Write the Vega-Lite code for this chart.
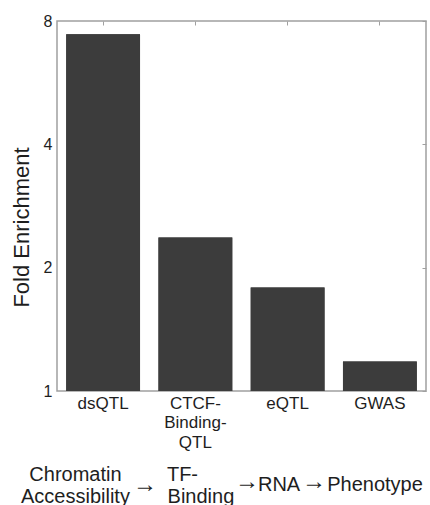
{
  "$schema": "https://vega.github.io/schema/vega-lite/v6.json",
  "padding": {"left": 9, "top": 12, "right": 0, "bottom": 0},
  "spacing": 59,
  "bounds": "flush",
  "config": {
    "font": "Liberation Sans",
    "view": {"stroke": null},
    "axis": {"labelColor": "#1e1e1e", "titleColor": "#1e1e1e", "domainColor": "#a0a0a0", "tickColor": "#a0a0a0", "grid": false}
  },
  "vconcat": [
    {
      "width": 369,
      "height": 370,
      "view": {"stroke": "#a0a0a0", "strokeWidth": 1.5},
      "data": {
        "values": [
          {"category": "dsQTL", "enrichment": 7.43, "base": 1},
          {"category": "CTCF-Binding-QTL", "enrichment": 2.37, "base": 1},
          {"category": "eQTL", "enrichment": 1.79, "base": 1},
          {"category": "GWAS", "enrichment": 1.18, "base": 1}
        ]
      },
      "resolve": {"axis": {"x": "independent", "y": "independent"}},
      "layer": [
        {
          "mark": {"type": "bar", "color": "#3c3c3c"},
          "encoding": {
            "x": {
              "field": "category", "type": "nominal", "sort": null,
              "scale": {"paddingInner": 0.2, "paddingOuter": 0.1},
              "axis": {
                "orient": "bottom", "title": null, "labelAngle": 0, "ticks": false, "domain": false,
                "labelFontSize": 17, "labelPadding": 4, "labelLineHeight": 19.5,
                "labelExpr": "datum.label == 'CTCF-Binding-QTL' ? ['CTCF-', 'Binding-', 'QTL'] : datum.label"
              }
            },
            "y": {
              "field": "enrichment", "type": "quantitative",
              "scale": {"type": "log", "base": 2, "domain": [1, 8]},
              "axis": {
                "orient": "left", "values": [1, 2, 4, 8], "title": "Fold Enrichment", "titleFontSize": 22, "titleFontWeight": "normal",
                "titlePadding": 10, "titleY": 206, "labelFontSize": 16, "ticks": false, "labelPadding": 5, "domain": false
              }
            },
            "y2": {"field": "base"}
          }
        },
        {
          "mark": {"type": "bar", "color": "#3c3c3c"},
          "encoding": {
            "x": {
              "field": "category", "type": "nominal", "sort": null,
              "axis": {"orient": "top", "title": null, "labels": false, "domain": false, "tickSize": -4, "ticks": true, "minExtent": 0, "maxExtent": 0}
            },
            "y": {
              "field": "enrichment", "type": "quantitative",
              "axis": {"orient": "right", "values": [1, 2, 4, 8], "title": null, "labels": false, "domain": false, "tickSize": -4, "minExtent": 0, "maxExtent": 0}
            },
            "y2": {"field": "base"}
          }
        }
      ]
    },
    {
      "width": 369,
      "height": 56,
      "data": {
        "values": [
          {"t": "Chromatin", "kind": "word", "x": 0.2, "y": 1},
          {"t": "Accessibility", "kind": "word", "x": 0.2, "y": 0.1},
          {"t": "→", "kind": "arrow", "x": 0.954, "y": 0.6},
          {"t": "TF-", "kind": "word", "x": 1.36, "y": 1},
          {"t": "Binding", "kind": "word", "x": 1.56, "y": 0.1},
          {"t": "→", "kind": "arrow", "x": 2.06, "y": 0.72},
          {"t": "RNA", "kind": "word", "x": 2.407, "y": 0.6},
          {"t": "→", "kind": "arrow", "x": 2.786, "y": 0.72},
          {"t": "Phenotype", "kind": "word", "x": 3.447, "y": 0.6}
        ]
      },
      "encoding": {
        "x": {"field": "x", "type": "quantitative", "scale": {"domain": [0, 4]}, "axis": null},
        "y": {"field": "y", "type": "quantitative", "scale": {"domain": [-0.25, 2]}, "axis": null},
        "text": {"field": "t"}
      },
      "layer": [
        {
          "transform": [{"filter": "datum.kind == 'word'"}],
          "mark": {"type": "text", "fontSize": 20, "color": "#1e1e1e", "baseline": "middle", "align": "center", "clip": false}
        },
        {
          "transform": [{"filter": "datum.kind == 'arrow'"}],
          "mark": {"type": "text", "fontSize": 24, "color": "#1e1e1e", "baseline": "middle", "align": "center", "clip": false}
        }
      ]
    }
  ]
}
